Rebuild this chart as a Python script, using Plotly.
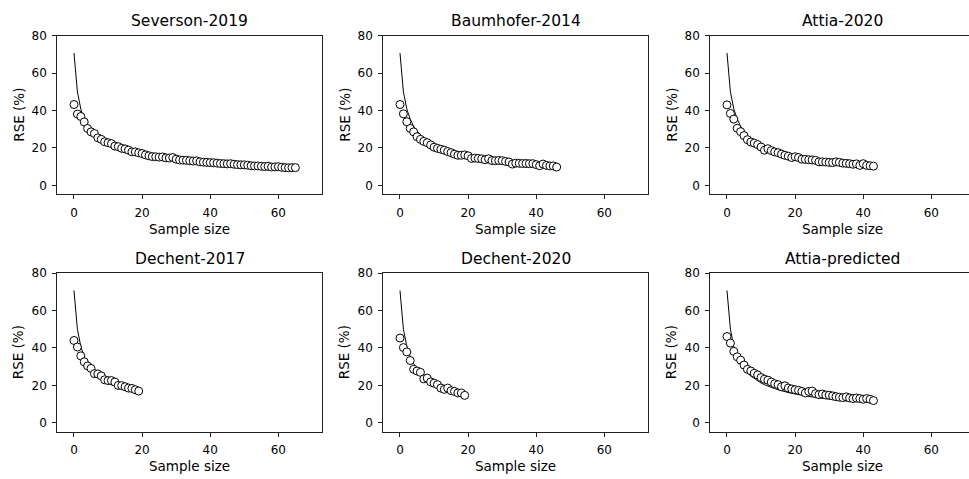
import plotly.graph_objects as go

titles = ["Severson-2019", "Baumhofer-2014", "Attia-2020",
          "Dechent-2017", "Dechent-2020", "Attia-predicted"]

severson_2019 = [43.2, 38.1, 36.8, 33.9, 30.4, 28.6, 27.7, 25.4, 24.6, 23.3,
                 22.8, 22.3, 21.0, 20.7, 19.8, 19.5, 18.8, 17.9, 17.9, 17.4,
                 17.0, 16.3, 15.8, 15.4, 15.3, 15.1, 15.2, 14.7, 14.6, 14.9,
                 14.0, 13.6, 13.5, 13.4, 13.2, 13.0, 13.1, 12.6, 12.4, 12.3,
                 12.2, 12.1, 11.9, 11.7, 11.6, 11.5, 11.6, 11.3, 11.1, 11.0,
                 11.0, 10.8, 10.5, 10.4, 10.4, 10.2, 10.1, 10.2, 9.8, 9.9,
                 10.0, 9.7, 9.5, 9.4, 9.5, 9.5]
baumhofer_2014 = [43.2, 38.2, 34.0, 30.4, 28.6, 26.0, 24.6, 23.5, 22.8, 21.6,
                  20.4, 19.8, 19.3, 18.8, 18.1, 17.5, 16.7, 16.1, 16.1, 16.3,
                  15.8, 14.4, 14.6, 14.4, 14.2, 13.7, 14.2, 13.3, 13.2, 13.3,
                  13.2, 12.8, 12.5, 11.4, 11.9, 11.8, 11.7, 11.7, 11.6, 11.6,
                  11.1, 10.5, 11.4, 10.7, 10.4, 10.4, 9.8]
attia_2020 = [43.0, 38.4, 35.4, 30.5, 28.7, 26.6, 24.4, 23.2, 22.6, 21.8,
              20.5, 18.8, 19.6, 18.6, 17.9, 17.5, 16.7, 16.1, 15.6, 14.9,
              15.3, 14.9, 14.0, 13.9, 13.7, 13.6, 13.4, 12.6, 12.6, 12.5,
              12.3, 12.2, 12.6, 12.3, 11.9, 11.8, 11.6, 11.3, 11.5, 10.7,
              11.6, 10.7, 10.5, 10.3]
dechent_2017 = [44.0, 40.5, 35.8, 32.6, 30.4, 29.1, 26.3, 26.1, 25.1, 23.0,
                22.6, 22.6, 21.8, 20.0, 19.9, 19.3, 18.6, 18.4, 17.7, 17.0]
dechent_2020 = [45.3, 40.2, 37.9, 33.3, 28.6, 27.7, 27.0, 23.5, 23.9, 21.9,
                21.2, 20.4, 18.6, 17.9, 18.6, 17.2, 16.8, 16.0, 16.0, 14.7]
attia_predicted = [46.1, 42.6, 38.2, 35.3, 33.5, 30.9, 28.6, 27.7, 26.5, 25.6,
                   24.2, 23.3, 22.8, 21.8, 20.9, 20.4, 19.3, 19.8, 18.6, 18.1,
                   17.7, 17.4, 16.8, 16.0, 16.8, 17.0, 15.6, 15.1, 15.4, 14.9,
                   14.8, 14.4, 14.0, 13.7, 13.5, 13.9, 13.3, 13.0, 13.3, 13.0,
                   12.6, 13.0, 12.6, 11.9]

# reference curve
reference_curve = [70.7, 50.0, 40.8, 35.4, 31.6, 28.9, 26.7, 25.0, 23.6, 22.4,
                   21.3, 20.4, 19.6, 18.9, 18.3, 17.7, 17.1, 16.7, 16.2, 15.8,
                   15.4, 15.1, 14.7, 14.4, 14.1, 13.9, 13.6, 13.4, 13.1, 12.9,
                   12.7, 12.5, 12.3, 12.2, 12.0, 11.8, 11.7, 11.5, 11.4, 11.2,
                   11.1, 11.0, 10.8, 10.7, 10.6, 10.5, 10.4, 10.3, 10.2, 10.1,
                   10.0, 9.9, 9.8, 9.7, 9.6, 9.5, 9.4, 9.3, 9.2, 9.2,
                   9.1, 9.0, 8.9, 8.9, 8.8, 8.7]

x_ticks = [0, 20, 40, 60]
y_ticks = [0, 20, 40, 60, 80]

series = [severson_2019, baumhofer_2014, attia_2020,
          dechent_2017, dechent_2020, attia_predicted]

W, H = 969, 479
col_left = [57.3, 383.3, 710.3]
ax_w = 265.0
row_top = [29.0, 270.0]
ax_h = 161.0
x_min, x_max = -4.9, 72.9
y_min, y_max = -4.7, 80.0
px_per_x = ax_w / (x_max - x_min)

FONT = "DejaVu Sans"
fig = go.Figure()
annotations = []
layout_axes = {}

for i, (title, vals) in enumerate(zip(titles, series)):
    r, c = divmod(i, 3)
    idx = i + 1
    xname = "x" if idx == 1 else f"x{idx}"
    yname = "y" if idx == 1 else f"y{idx}"
    left = col_left[c]
    right = min(left + ax_w, W)
    top = row_top[r]
    bottom = top + ax_h
    xr_max = x_min + (right - left) / px_per_x
    xs = list(range(len(vals)))

    fig.add_trace(go.Scatter(x=xs, y=reference_curve[:len(vals)], mode="lines",
                             line=dict(color="black", width=1),
                             xaxis=xname, yaxis=yname, showlegend=False,
                             hoverinfo="skip"))
    fig.add_trace(go.Scatter(x=xs, y=vals, mode="markers",
                             marker=dict(symbol="circle", size=8, color="white",
                                         line=dict(color="black", width=1)),
                             xaxis=xname, yaxis=yname, showlegend=False))

    common = dict(showline=True, linecolor="#222222", linewidth=1,
                  ticks="outside", ticklen=4, tickwidth=1, tickcolor="#222222",
                  showgrid=False, zeroline=False, ticklabelstandoff=3,
                  tickfont=dict(family=FONT, size=12, color="black"))
    xkey = "xaxis" if idx == 1 else f"xaxis{idx}"
    ykey = "yaxis" if idx == 1 else f"yaxis{idx}"
    layout_axes[xkey] = dict(common, domain=[left / W, right / W],
                             range=[x_min, xr_max], tickvals=x_ticks,
                             anchor=yname, mirror=True)
    layout_axes[ykey] = dict(common, domain=[1 - bottom / H, 1 - top / H],
                             range=[y_min, y_max], tickvals=y_ticks,
                             anchor=xname, mirror=(right - left >= ax_w - 0.5))

    cx = (left + left + ax_w) / 2
    annotations.append(dict(text=title, x=cx / W, y=1 - (top - 14.5) / H,
                            xref="paper", yref="paper", xanchor="center",
                            yanchor="middle", showarrow=False,
                            font=dict(family=FONT, size=15.5, color="black")))
    annotations.append(dict(text="Sample size", x=cx / W, y=1 - (bottom + 35) / H,
                            xref="paper", yref="paper", xanchor="center",
                            yanchor="middle", showarrow=False,
                            font=dict(family=FONT, size=13.5, color="black")))
    annotations.append(dict(text="RSE (%)", x=(left - 38.5) / W,
                            y=1 - (top + ax_h / 2) / H,
                            xref="paper", yref="paper", xanchor="center",
                            yanchor="middle", showarrow=False, textangle=-90,
                            font=dict(family=FONT, size=13.5, color="black")))

fig.update_layout(width=W, height=H, margin=dict(l=0, r=0, t=0, b=0),
                  paper_bgcolor="white", plot_bgcolor="white",
                  annotations=annotations, **layout_axes)

fig.write_html("out.html", config={"displayModeBar": False},
               post_script="document.body.style.margin='0';"
                           "document.body.style.overflow='hidden';")
